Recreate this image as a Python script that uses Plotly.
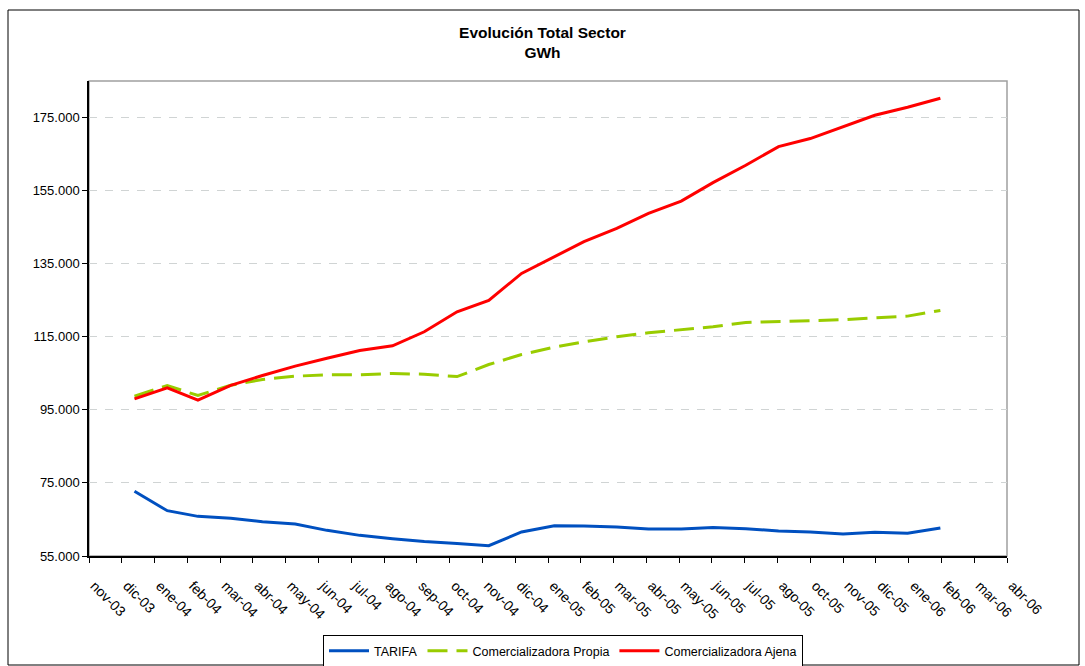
import pandas as pd
import plotly.graph_objects as go

# ---- data ----
months = pd.date_range("2004-01-01", "2006-02-01", freq="MS")  # 26 monthly points

tarifa = [72700, 67400, 65850, 65300, 64400, 63770, 62020, 60650, 59740, 59000,
          58450, 57820, 61570, 63300, 63210, 62940, 62390, 62390, 62830, 62480,
          61850, 61570, 61030, 61470, 61200, 62680]
propia = [98730, 101660, 98920, 101740, 103300, 104200, 104600, 104600, 104950, 104750,
          104100, 107400, 110150, 112150, 113630, 115000, 116100, 117000, 117740, 118920,
          119110, 119470, 119660, 120200, 120650, 122210]
ajena = [98010, 101030, 97630, 101700, 104400, 106960, 109140, 111250, 112540, 116370,
         121850, 124950, 132340, 136920, 141030, 144670, 148780, 152150, 157190, 161930,
         167050, 169250, 172530, 175630, 177820, 180290]

series_names = ["TARIFA", "Comercializadora Propia", "Comercializadora Ajena"]

tick_labels = ["nov-03", "dic-03", "ene-04", "feb-04", "mar-04", "abr-04", "may-04",
               "jun-04", "jul-04", "ago-04", "sep-04", "oct-04", "nov-04", "dic-04",
               "ene-05", "feb-05", "mar-05", "abr-05", "may-05", "jun-05", "jul-05",
               "ago-05", "oct-05", "nov-05", "dic-05", "ene-06", "feb-06", "mar-06",
               "abr-06"]
# time-scale axis: major unit of 31 days from the axis minimum
tick_dates = pd.date_range("2003-11-19", periods=len(tick_labels), freq="31D")

y_ticks = [55000, 75000, 95000, 115000, 135000, 155000, 175000]

FONT = "Liberation Sans, Arial, sans-serif"
W, H = 1085, 666
L, R, T, B = 89, 1007, 81, 556

fig = go.Figure()
fig.add_trace(go.Scatter(x=months, y=tarifa, name=series_names[0], mode="lines",
                         line=dict(color="#0050c0", width=3)))
fig.add_trace(go.Scatter(x=months, y=propia, name=series_names[1], mode="lines",
                         line=dict(color="#99cc00", width=3, dash="20px,9px")))
fig.add_trace(go.Scatter(x=months, y=ajena, name=series_names[2], mode="lines",
                         line=dict(color="#ff0000", width=3)))

pw, ph = R - L, B - T
def px_x(px):
    return (px - L) / pw
def px_y(py):
    return (B - py) / ph

shapes = [
    # plot-area frame (grey)
    dict(type="rect", xref="paper", yref="paper", x0=0, x1=1, y0=0, y1=1,
         line=dict(color="#a0a0a0", width=1.5), layer="below"),
    # outer chart border
    dict(type="rect", xref="paper", yref="paper", x0=px_x(8), x1=px_x(1079),
         y0=px_y(665), y1=px_y(10), line=dict(color="black", width=1), layer="below"),
]

fig.update_layout(
    width=W, height=H,
    margin=dict(l=L, r=W - R, t=T, b=H - B, pad=0, autoexpand=False),
    paper_bgcolor="white", plot_bgcolor="white",
    separators=",.",
    font=dict(family=FONT, size=13, color="black"),
    title=dict(text="<b>Evolución Total Sector</b><br><b>GWh</b>",
               x=0.5, xref="container", xanchor="center",
               y=1 - 38 / H, yref="container", yanchor="top",
               font=dict(family=FONT, size=15.5, color="black")),
    showlegend=True,
    legend=dict(orientation="h", x=px_x(563), xanchor="center",
                y=px_y(635), yanchor="top",
                bordercolor="black", borderwidth=1, bgcolor="white",
                font=dict(family=FONT, size=12.5, color="black"),
                itemwidth=40, tracegroupgap=0),
    shapes=shapes,
)

fig.update_xaxes(
    range=[tick_dates[0], tick_dates[-1]],
    tickmode="array", tickvals=tick_dates,
    ticktext=["\u00a0\u00a0" + t for t in tick_labels],
    tickangle=45, ticks="outside", ticklen=5, tickcolor="black",
    ticklabelstandoff=4,
    showline=True, linecolor="black", linewidth=1.5,
    showgrid=False, zeroline=False, automargin=False,
    tickfont=dict(family=FONT, size=14, color="black"),
)
fig.update_yaxes(
    range=[55000, 185000],
    tickmode="array", tickvals=y_ticks, tickformat=",d",
    ticks="outside", ticklen=5, tickcolor="black",
    showline=True, linecolor="black", linewidth=1.5,
    showgrid=True, gridcolor="#d0d4d4", griddash="8px,8px", gridwidth=1,
    zeroline=False, automargin=False,
    tickfont=dict(family=FONT, size=13, color="black"),
)

fig.write_html("out.html", config={"displayModeBar": False},
               post_script="document.body.style.margin='0';document.body.style.overflow='hidden';")
